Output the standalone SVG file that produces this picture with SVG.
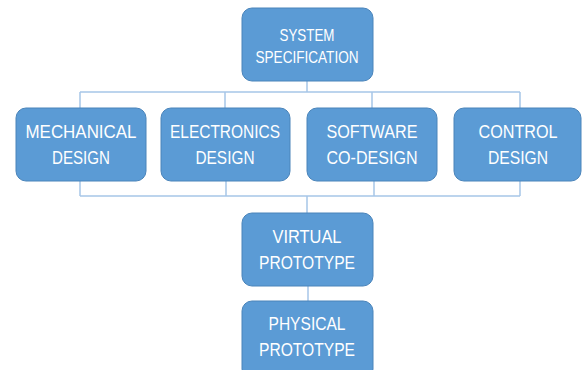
<svg xmlns="http://www.w3.org/2000/svg" width="582" height="370" viewBox="0 0 582 370">
<style>
.box{fill:#5B9BD5;stroke:#4A84BA;stroke-width:1}
.t{fill:#FFFFFF;font-family:"Liberation Sans",Arial,sans-serif;text-anchor:middle}
.s{font-size:17px}
.m{font-size:19px}
.c{fill:none;stroke:#A7C6E8;stroke-width:1.5}
</style>
<rect width="582" height="370" fill="#FFFFFF"/>
<g id="connectors">
<path class="c" d="M307 81V92M80 92H520M80 92V108M225 92V108M372 92V108M520 92V108"/>
<path class="c" d="M80 181V196M226 181V196M374 181V196M520 181V196M80 196H520M307 196V213"/>
<path class="c" d="M308 286V301"/>
</g>
<g id="system-specification">
<rect class="box" x="242" y="8" width="131" height="73" rx="10"/>
<text class="t s" x="307" y="41" textLength="55" lengthAdjust="spacingAndGlyphs">SYSTEM</text>
<text class="t s" x="307" y="63" textLength="103" lengthAdjust="spacingAndGlyphs">SPECIFICATION</text>
</g>
<g id="mechanical-design">
<rect class="box" x="16" y="108" width="130" height="73" rx="10"/>
<text class="t m" x="81" y="138" textLength="111" lengthAdjust="spacingAndGlyphs">MECHANICAL</text>
<text class="t m" x="81" y="164" textLength="58" lengthAdjust="spacingAndGlyphs">DESIGN</text>
</g>
<g id="electronics-design">
<rect class="box" x="161" y="108" width="129" height="73" rx="10"/>
<text class="t m" x="225" y="138" textLength="110" lengthAdjust="spacingAndGlyphs">ELECTRONICS</text>
<text class="t m" x="225" y="164" textLength="59" lengthAdjust="spacingAndGlyphs">DESIGN</text>
</g>
<g id="software-co-design">
<rect class="box" x="307" y="108" width="130" height="73" rx="10"/>
<text class="t m" x="372" y="138" textLength="91" lengthAdjust="spacingAndGlyphs">SOFTWARE</text>
<text class="t m" x="372" y="164" textLength="91" lengthAdjust="spacingAndGlyphs">CO-DESIGN</text>
</g>
<g id="control-design">
<rect class="box" x="454" y="108" width="127" height="73" rx="10"/>
<text class="t m" x="518" y="138" textLength="79" lengthAdjust="spacingAndGlyphs">CONTROL</text>
<text class="t m" x="518" y="164" textLength="60" lengthAdjust="spacingAndGlyphs">DESIGN</text>
</g>
<g id="virtual-prototype">
<rect class="box" x="242" y="213" width="131" height="73" rx="10"/>
<text class="t m" x="307" y="243" textLength="69" lengthAdjust="spacingAndGlyphs">VIRTUAL</text>
<text class="t m" x="307" y="269" textLength="96" lengthAdjust="spacingAndGlyphs">PROTOTYPE</text>
</g>
<g id="physical-prototype">
<rect class="box" x="242" y="301" width="131" height="78" rx="10"/>
<text class="t m" x="307" y="330" textLength="77" lengthAdjust="spacingAndGlyphs">PHYSICAL</text>
<text class="t m" x="307" y="356" textLength="96" lengthAdjust="spacingAndGlyphs">PROTOTYPE</text>
</g>
</svg>
